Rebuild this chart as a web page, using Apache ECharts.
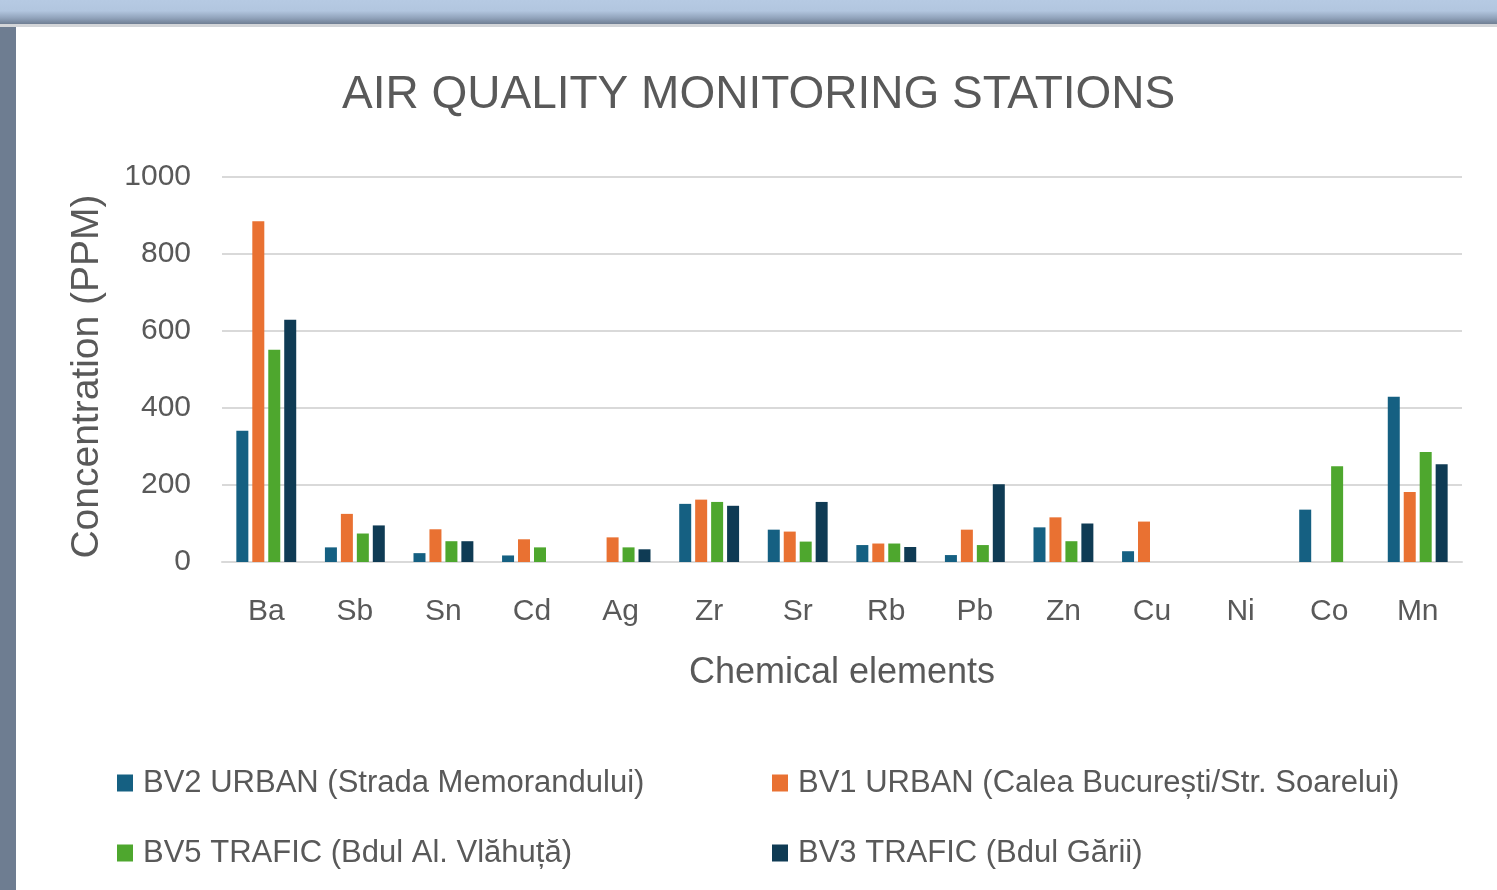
<!DOCTYPE html>
<html>
<head>
<meta charset="utf-8">
<title>Air quality monitoring stations</title>
<script src="https://cdn.jsdelivr.net/npm/echarts@6/dist/echarts.min.js"></script>
<style>
    html, body { margin: 0; padding: 0; width: 1497px; height: 890px; overflow: hidden; background: #6e7d91; }
    .topbar { position: absolute; left: 0; top: 0; width: 1497px; height: 24px;
        background: linear-gradient(#b6cae3 0%, #b2c6df 45%, #91a3bb 75%, #6f7e93 100%); }
    .topline { position: absolute; left: 0; top: 24px; width: 1497px; height: 3px; background: #d3d5d8; }
    .card { position: absolute; left: 16px; top: 27px; width: 1481px; height: 863px; background: #ffffff; }
    #chart { position: absolute; left: 0; top: 0; width: 1497px; height: 890px; }
</style>
</head>
<body>
<div class="topbar"></div>
<div class="topline"></div>
<div class="card"></div>
<div id="chart"></div>
<script>
var elements = ['Ba', 'Sb', 'Sn', 'Cd', 'Ag', 'Zr', 'Sr', 'Rb', 'Pb', 'Zn', 'Cu', 'Ni', 'Co', 'Mn'];

var stationNames = [
    'BV2 URBAN (Strada Memorandului)',
    'BV1 URBAN (Calea București/Str. Soarelui)',
    'BV5 TRAFIC (Bdul Al. Vlăhuță)',
    'BV3 TRAFIC (Bdul Gării)'
];
var stationColors = ['#156082', '#E97132', '#4EA72E', '#0F3B54'];

// concentratii (PPM), null = fara valoare
var bv2Urban  = [341, 38, 23, 17, null, 151, 84, 44, 18, 90, 28, null, 136, 429];
var bv1Urban  = [885, 125, 85, 59, 64, 162, 79, 48, 84, 116, 105, null, null, 182];
var bv5Trafic = [551, 74, 54, 38, 38, 156, 53, 48, 44, 54, null, null, 249, 286];
var bv3Trafic = [629, 95, 54, null, 33, 146, 156, 39, 202, 100, null, null, null, 254];

var yTicks = [0, 200, 400, 600, 800, 1000];

var seriesData = [bv2Urban, bv1Urban, bv5Trafic, bv3Trafic];
var textColor = '#595959';
var font = 'Liberation Sans, Arial, sans-serif';

var myChart = echarts.init(document.getElementById('chart'));

// legenda pe doua coloane, fiecare element separat
var legendPos = [[117, 763], [772, 763], [117, 833], [772, 833]];
var legends = [];
for (var i = 0; i < stationNames.length; i++) {
    legends.push({
        data: [stationNames[i]],
        left: legendPos[i][0],
        top: legendPos[i][1],
        padding: 0,
        icon: 'rect',
        itemWidth: 16,
        itemHeight: 17,
        selectedMode: false,
        textStyle: {
            color: textColor,
            fontFamily: font,
            fontSize: 31,
            lineHeight: 40,
            padding: [0, 0, 0, 5]
        }
    });
}

var series = [];
for (var j = 0; j < seriesData.length; j++) {
    series.push({
        name: stationNames[j],
        type: 'bar',
        barWidth: 12,
        barGap: '33%',
        itemStyle: { color: stationColors[j] },
        data: seriesData[j]
    });
}

var option = {
    backgroundColor: 'transparent',
    animation: false,
    title: {
        text: 'AIR QUALITY MONITORING STATIONS',
        left: 342,
        top: 72,
        padding: 0,
        textStyle: {
            color: textColor,
            fontFamily: font,
            fontWeight: 'normal',
            fontSize: 46
        }
    },
    legend: legends,
    grid: {
        left: 222,
        right: 35,
        top: 177,
        bottom: 328,
        containLabel: false
    },
    xAxis: {
        type: 'category',
        data: elements,
        name: 'Chemical elements',
        nameLocation: 'middle',
        nameGap: 93,
        nameTextStyle: { color: textColor, fontFamily: font, fontSize: 36 },
        axisLine: { lineStyle: { color: '#d9d9d9', width: 2 } },
        axisTick: { show: false },
        axisLabel: { color: textColor, fontFamily: font, fontSize: 30, margin: 35 }
    },
    yAxis: {
        type: 'value',
        min: yTicks[0],
        max: yTicks[yTicks.length - 1],
        interval: yTicks[1] - yTicks[0],
        name: 'Concentration (PPM)',
        nameLocation: 'middle',
        nameGap: 115,
        nameTextStyle: { color: textColor, fontFamily: font, fontSize: 39, padding: [0, 14, 0, 0] },
        axisLine: { show: false },
        axisTick: { show: false },
        axisLabel: {
            color: textColor, fontFamily: font, fontSize: 30, margin: 31,
            formatter: function (v) { return String(v); }
        },
        splitLine: { lineStyle: { color: '#d9d9d9', width: 2 } }
    },
    series: series
};

myChart.setOption(option);
</script>
</body>
</html>
